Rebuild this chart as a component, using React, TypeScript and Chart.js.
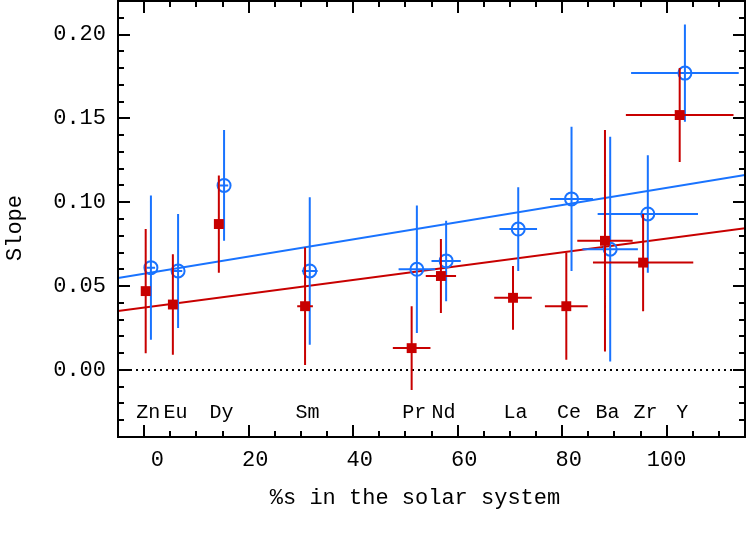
import React, { useEffect, useRef } from 'react';
import { Chart, registerables } from 'chart.js';

Chart.register(...registerables);

const ELEMENTS = ['Zn', 'Eu', 'Dy', 'Sm', 'Pr', 'Nd', 'La', 'Ce', 'Ba', 'Zr', 'Y'];
const RED_X = [0.3, 5.5, 14.3, 30.8, 51.2, 56.8, 70.6, 80.8, 88.2, 95.5, 102.5];
const RED_XERR = [0.8, 0.8, 0.8, 1.5, 3.6, 2.9, 3.6, 4.1, 5.3, 9.6, 10.3];
const RED_Y = [0.047, 0.039, 0.087, 0.038, 0.013, 0.056, 0.043, 0.038, 0.077, 0.064, 0.152];
const RED_YERR = [0.037, 0.030, 0.029, 0.035, 0.025, 0.022, 0.019, 0.032, 0.066, 0.029, 0.028];
const BLUE_X = [1.3, 6.5, 15.3, 31.7, 52.2, 57.8, 71.6, 81.8, 89.2, 96.4, 103.5];
const BLUE_XERR = [0.8, 0.8, 0.8, 1.5, 3.5, 2.8, 3.6, 4.1, 5.3, 9.6, 10.3];
const BLUE_Y = [0.061, 0.059, 0.110, 0.059, 0.060, 0.065, 0.084, 0.102, 0.072, 0.093, 0.177];
const BLUE_YERR = [0.043, 0.034, 0.033, 0.044, 0.038, 0.024, 0.025, 0.043, 0.067, 0.035, 0.029];
// [intercept, slope]
const RED_FIT = [0.0372, 0.000411];
const BLUE_FIT = [0.0574, 0.000512];
const X_TICKS = [0, 20, 40, 60, 80, 100];
const Y_TICKS = [0, 0.05, 0.1, 0.15, 0.2];
const X_MIN = -5;
const X_MAX = 115;
const Y_MIN = -0.04;
const Y_MAX = 0.22;
const LABEL_Y = -0.0287;
const X_TITLE = '%s in the solar system';
const Y_TITLE = 'Slope';

const RED = 'rgb(200,0,0)';
const BLUE = 'rgb(25,115,255)';
const FONT = '"Liberation Mono", "DejaVu Sans Mono", monospace';

const ERR = [
  { x: RED_X, xe: RED_XERR, y: RED_Y, ye: RED_YERR, color: RED },
  { x: BLUE_X, xe: BLUE_XERR, y: BLUE_Y, ye: BLUE_YERR, color: BLUE },
];

const decorPlugin = {
  id: 'decor',
  beforeDatasetsDraw(chart: any) {
    const { ctx, chartArea, scales } = chart;
    const y0 = scales.y.getPixelForValue(0);
    ctx.save();
    ctx.strokeStyle = '#000';
    ctx.lineWidth = 2;
    ctx.setLineDash([2, 4]);
    ctx.beginPath();
    ctx.moveTo(chartArea.left, y0);
    ctx.lineTo(chartArea.right, y0);
    ctx.stroke();
    ctx.restore();
  },
  beforeDatasetDraw(chart: any, args: any) {
    const e = ERR[args.index];
    if (!e) return;
    const { ctx, scales } = chart;
    ctx.save();
    ctx.strokeStyle = e.color;
    ctx.lineWidth = 2;
    ctx.beginPath();
    for (let i = 0; i < e.x.length; i++) {
      const px = scales.x.getPixelForValue(e.x[i]);
      const py = scales.y.getPixelForValue(e.y[i]);
      ctx.moveTo(scales.x.getPixelForValue(e.x[i] - e.xe[i]), py);
      ctx.lineTo(scales.x.getPixelForValue(e.x[i] + e.xe[i]), py);
      ctx.moveTo(px, scales.y.getPixelForValue(e.y[i] - e.ye[i]));
      ctx.lineTo(px, scales.y.getPixelForValue(e.y[i] + e.ye[i]));
    }
    ctx.stroke();
    ctx.restore();
  },
  afterDraw(chart: any) {
    const { ctx, chartArea: a, scales } = chart;
    const xs = scales.x;
    const ys = scales.y;
    ctx.save();
    ctx.strokeStyle = '#000';
    ctx.lineWidth = 2;
    ctx.strokeRect(a.left, a.top, a.right - a.left, a.bottom - a.top);
    ctx.beginPath();
    for (let v = X_MIN; v <= X_MAX + 1e-9; v += 5) {
      const major = Math.abs(v % 20) < 1e-9;
      const len = major ? 12 : 6;
      const px = Math.round(xs.getPixelForValue(v));
      ctx.moveTo(px, a.bottom);
      ctx.lineTo(px, a.bottom - len);
      ctx.moveTo(px, a.top);
      ctx.lineTo(px, a.top + len);
    }
    for (let k = -4; k <= 22; k++) {
      const v = k / 100;
      const major = k % 5 === 0;
      const len = major ? 12 : 6;
      const py = Math.round(ys.getPixelForValue(v));
      ctx.moveTo(a.left, py);
      ctx.lineTo(a.left + len, py);
      ctx.moveTo(a.right, py);
      ctx.lineTo(a.right - len, py);
    }
    ctx.stroke();

    ctx.fillStyle = '#000';
    ctx.font = '20px ' + FONT;
    ctx.textAlign = 'center';
    ctx.textBaseline = 'alphabetic';
    for (let i = 0; i < ELEMENTS.length; i++) {
      const px = xs.getPixelForValue((RED_X[i] + BLUE_X[i]) / 2);
      ctx.fillText(ELEMENTS[i], px, ys.getPixelForValue(LABEL_Y));
    }

    ctx.font = '22px ' + FONT;
    ctx.fillText(X_TITLE, 415, 504);
    ctx.translate(21, 228);
    ctx.rotate(-Math.PI / 2);
    ctx.fillText(Y_TITLE, 0, 0);
    ctx.restore();
  },
};

const zeroPad = (axis: any) => {
  axis.paddingTop = 0;
  axis.paddingBottom = 0;
  axis.paddingLeft = 0;
  axis.paddingRight = 0;
};

export default function App() {
  const ref = useRef<HTMLCanvasElement>(null);
  useEffect(() => {
    document.body.style.margin = '0';
    const canvas = ref.current!;
    const chart = new Chart(canvas, {
      type: 'scatter',
      data: {
        datasets: [
          {
            label: 'red',
            data: RED_X.map((x, i) => ({ x, y: RED_Y[i] })),
            pointStyle: 'rect',
            pointRadius: 7,
            backgroundColor: RED,
            borderColor: RED,
            borderWidth: 0,
          },
          {
            label: 'blue',
            data: BLUE_X.map((x, i) => ({ x, y: BLUE_Y[i] })),
            pointStyle: 'circle',
            pointRadius: 6.5,
            backgroundColor: 'rgba(0,0,0,0)',
            borderColor: BLUE,
            borderWidth: 2,
          },
          {
            label: 'red fit',
            data: [X_MIN, X_MAX].map((x) => ({ x, y: RED_FIT[0] + RED_FIT[1] * x })),
            showLine: true,
            pointRadius: 0,
            borderColor: RED,
            borderWidth: 2,
          },
          {
            label: 'blue fit',
            data: [X_MIN, X_MAX].map((x) => ({ x, y: BLUE_FIT[0] + BLUE_FIT[1] * x })),
            showLine: true,
            pointRadius: 0,
            borderColor: BLUE,
            borderWidth: 2,
          },
        ],
      } as any,
      options: {
        responsive: false,
        animation: false,
        layout: { autoPadding: false, padding: { top: 1, right: 2, left: 0, bottom: 0 } },
        plugins: { legend: { display: false }, tooltip: { enabled: false } },
        scales: {
          x: {
            type: 'linear',
            min: X_MIN,
            max: X_MAX,
            grid: { display: false, drawTicks: false },
            border: { display: false },
            afterBuildTicks: (axis: any) => {
              axis.ticks = X_TICKS.map((v) => ({ value: v }));
            },
            afterFit: (axis: any) => {
              axis.height = 114;
              zeroPad(axis);
            },
            ticks: {
              color: '#000',
              font: { family: FONT, size: 22 },
              padding: 10,
              maxRotation: 0,
              autoSkip: false,
              callback: (v: any) => String(v).padStart(3, ' '),
            },
          },
          y: {
            type: 'linear',
            min: Y_MIN,
            max: Y_MAX,
            grid: { display: false, drawTicks: false },
            border: { display: false },
            afterBuildTicks: (axis: any) => {
              axis.ticks = Y_TICKS.map((v) => ({ value: v }));
            },
            afterFit: (axis: any) => {
              axis.width = 118;
              zeroPad(axis);
            },
            ticks: {
              color: '#000',
              font: { family: FONT, size: 22 },
              padding: 12,
              autoSkip: false,
              callback: (v: any) => Number(v).toFixed(2),
            },
          },
        },
      } as any,
      plugins: [decorPlugin],
    });
    return () => chart.destroy();
  }, []);
  return (
    <div style={{ width: 747, height: 551 }}>
      <canvas ref={ref} width={747} height={551} />
    </div>
  );
}
